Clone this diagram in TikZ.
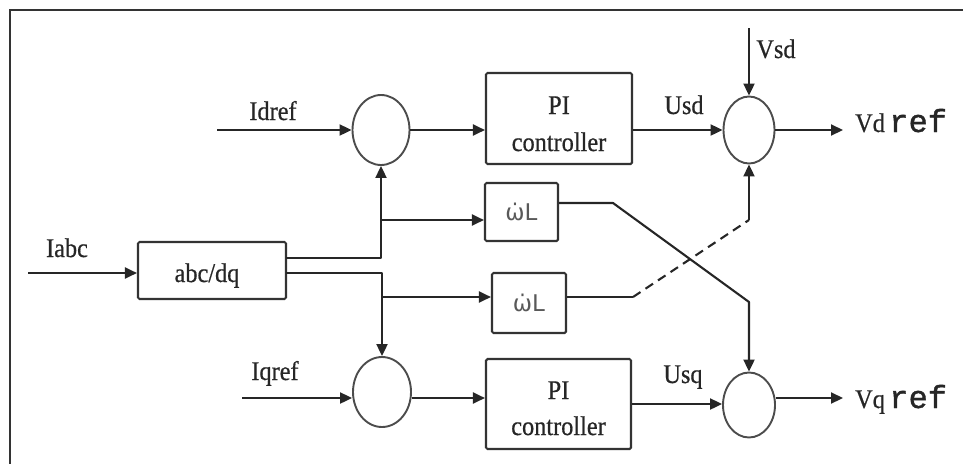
\documentclass[tikz,border=0pt]{standalone}
\usepackage{fontspec}
\setmainfont{Liberation Serif}
\newfontfamily\lblfont{Liberation Serif}[FakeStretch=0.9,FakeBold=0.6]
\newfontfamily\reffont{Liberation Mono}[FakeBold=1.2]
\newfontfamily\gainfont{DejaVu Sans}
\usetikzlibrary{arrows.meta,shapes.geometric}

\tikzset{
  wire/.style={line width=2.1pt, draw=black!85, line join=round},
  sig/.style={wire, -{Triangle[length=12pt,width=11pt]}},
  blk/.style={draw=black!80, line width=2.1pt, rounded corners=1.5pt, inner sep=0pt},
  sumnode/.style={ellipse, draw=black!70, line width=1.9pt, inner sep=0pt},
  lbl/.style={font=\lblfont\fontsize{27}{29}\selectfont, text=black!85, inner sep=0pt, anchor=base},
  gain/.style={font=\gainfont\fontsize{23}{25}\selectfont, text=black!65},
}

\begin{document}
\begin{tikzpicture}[x=1pt,y=1pt]
  \useasboundingbox (0,0) rectangle (963,-464);
  % outer frame (top and left edges)
  \draw[line width=1.5pt, black!80] (963,-10) -- (10,-10) -- (10,-464);

  % summing junctions
  \node[sumnode, minimum width=57pt, minimum height=70pt] (s1) at (381,-130) {};
  \node[sumnode, minimum width=58pt, minimum height=70pt] (s2) at (382,-392) {};
  \node[sumnode, minimum width=51pt, minimum height=67pt] (s3) at (749,-130) {};
  \node[sumnode, minimum width=52pt, minimum height=65pt] (s4) at (749,-405) {};

  % blocks
  \node[blk, minimum width=146pt, minimum height=91pt] (pi1) at (559,-118.5) {};
  \node[lbl] at (559,-114) {PI};
  \node[lbl] at (559,-151) {controller};
  \node[blk, minimum width=145pt, minimum height=90pt] (pi2) at (558.5,-404) {};
  \node[lbl] at (558.5,-399) {PI};
  \node[lbl] at (558.5,-435) {controller};
  \node[blk, minimum width=73pt, minimum height=58pt, gain] (wl1) at (521.5,-212) {ω̇L};
  \node[blk, minimum width=74pt, minimum height=60pt, gain] (wl2) at (529,-303) {ω̇L};
  \node[blk, minimum width=148pt, minimum height=57pt] (abc) at (212,-270.5) {};
  \node[lbl] at (207,-282) {abc/dq};

  % inputs and outputs
  \coordinate (iabcin) at (28,-273);
  \coordinate (idin) at (217,-130);
  \coordinate (iqin) at (242,-398);
  \coordinate (vsdin) at (749,-28);
  \coordinate (vdout) at (843,-130);
  \coordinate (vqout) at (843,-398);
  \coordinate (o1) at (286,-258);
  \coordinate (o2) at (286,-273);
  \coordinate (b1) at (381,-220);
  \coordinate (b2) at (382,-297);
  \coordinate (c1) at (613,-203);
  \coordinate (c2) at (749,-302);
  \coordinate (d1) at (633,-297);
  \coordinate (d2) at (749,-220);

  \draw[sig] (iabcin) -- (iabcin -| abc.west);
  \draw[sig] (idin) -- (s1.west);
  \draw[sig] (s1.east) -- (s1.east -| pi1.west);
  \draw[sig] (s1.east -| pi1.east) -- (s3.west);
  \draw[sig] (vsdin) -- (s3.north);
  \draw[sig] (s3.east) -- (vdout);

  \draw[sig] (o1) -| (s1.south);
  \draw[sig] (b1) -- (b1 -| wl1.west);
  \draw[sig] (o2) -| (s2.north);
  \draw[sig] (b2) -- (b2 -| wl2.west);

  \draw[sig] (iqin) -- (iqin -| s2.west);
  \draw[sig] (iqin -| s2.east) -- (iqin -| pi2.west);
  \draw[sig] (pi2.east) -- (pi2.east -| s4.west);
  \draw[sig] (vqout -| s4.east) -- (vqout);

  % cross-coupling terms
  \draw[sig] (c1 -| wl1.east) -- (c1) -- (c2) -- (s4.north);
  \draw[wire] (d1 -| wl2.east) -- (d1);
  \draw[wire, dash pattern=on 9pt off 6pt] (d1) -- (d2);
  \draw[sig] (d2) -- (s3.south);

  % signal labels
  \node[lbl] at (273,-120) {Idref};
  \node[lbl] at (275,-380) {Iqref};
  \node[lbl] at (67,-257) {Iabc};
  \node[lbl] at (684,-114) {Usd};
  \node[lbl] at (683,-383) {Usq};
  \node[lbl] at (776,-58) {Vsd};
  \node[lbl, anchor=base west] at (855,-132) {Vd\,{\reffont\fontsize{32}{34}\selectfont ref}};
  \node[lbl, anchor=base west] at (855,-408) {Vq\,{\reffont\fontsize{32}{34}\selectfont ref}};
\end{tikzpicture}
\end{document}
